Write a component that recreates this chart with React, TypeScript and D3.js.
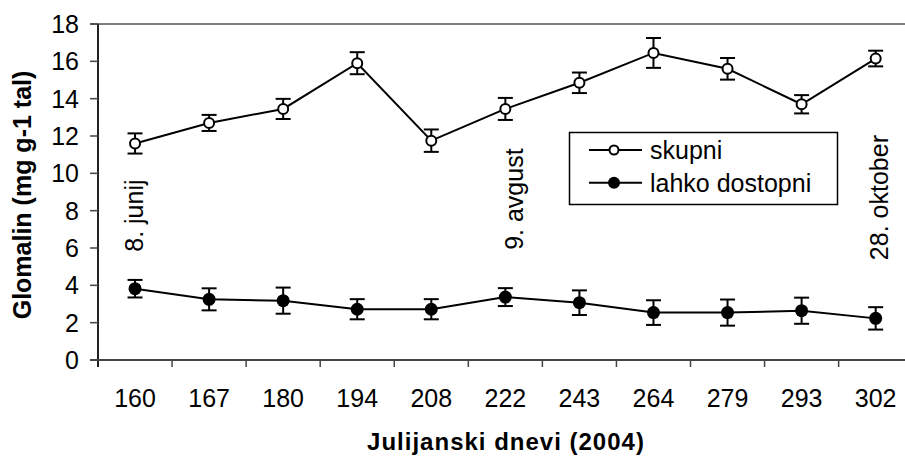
import React from 'react';
import * as d3 from 'd3';

const days = ['160', '167', '180', '194', '208', '222', '243', '264', '279', '293', '302'];
const skupni = [11.6, 12.7, 13.45, 15.9, 11.75, 13.45, 14.85, 16.45, 15.6, 13.7, 16.15];
const skupniErr = [0.54, 0.43, 0.54, 0.59, 0.6, 0.59, 0.55, 0.8, 0.58, 0.49, 0.42];
const lahko = [3.82, 3.25, 3.18, 2.72, 2.72, 3.37, 3.07, 2.54, 2.54, 2.64, 2.23];
const lahkoErr = [0.47, 0.59, 0.7, 0.54, 0.54, 0.48, 0.66, 0.66, 0.7, 0.7, 0.6];
const yTicks = [0, 2, 4, 6, 8, 10, 12, 14, 16, 18];
const annotationDays = ['160', '222', '302'];
const annotationTexts = ['8. junij', '9. avgust', '28. oktober'];
const seriesNames = ['skupni', 'lahko dostopni'];
const xTitle = 'Julijanski dnevi (2004)';
const yTitle = 'Glomalin (mg g-1 tal)';

const FONT = "Arial, 'Liberation Sans', sans-serif";

export default function App() {
  const W = 905, H = 456;
  const left = 98, right = 912.7, top = 24, bottom = 360;
  const x = d3.scaleBand<string>().domain(days).range([left, right]).padding(0);
  const y = d3.scaleLinear().domain([0, 18]).range([bottom, top]);
  const cx = (d: string) => (x(d) as number) + x.bandwidth() / 2;
  const line = d3.line<number>().x((_, i) => cx(days[i])).y((v) => y(v));
  const cap = 7.5;
  const annDx = [8, 18, 12];
  const annY = [5.8, 5.9, 5.35];

  const errorBars = (vals: number[], errs: number[], key: string) =>
    vals.map((v, i) => {
      const px = cx(days[i]);
      const y1 = y(v + errs[i]);
      const y2 = y(v - errs[i]);
      return (
        <g key={key + i} stroke="#000" strokeWidth={2}>
          <line x1={px} x2={px} y1={y1} y2={y2} />
          <line x1={px - cap} x2={px + cap} y1={y1} y2={y1} />
          <line x1={px - cap} x2={px + cap} y1={y2} y2={y2} />
        </g>
      );
    });

  return (
    <svg width={W} height={H} style={{ position: 'absolute', left: 0, top: 0, display: 'block', background: '#fff' }} fontFamily={FONT}>
      <rect x={0} y={0} width={W} height={H} fill="#fff" />
      {/* top border */}
      <line x1={90} x2={right} y1={top} y2={top} stroke="#808080" strokeWidth={2} />
      {/* y axis */}
      <line x1={left} x2={left} y1={top} y2={bottom + 7} stroke="#222" strokeWidth={2} />
      {yTicks.map((t) => (
        <g key={'yt' + t}>
          <line x1={90} x2={left} y1={y(t)} y2={y(t)} stroke="#444" strokeWidth={1.5} />
          <text x={79} y={y(t)} dy="0.36em" textAnchor="end" fontSize={25} fill="#000">{t}</text>
        </g>
      ))}
      {/* x axis */}
      <line x1={90} x2={right} y1={bottom} y2={bottom} stroke="#444" strokeWidth={2} />
      {days.map((d, i) => (
        <g key={'xt' + d}>
          {i > 0 && <line x1={x(d) as number} x2={x(d) as number} y1={bottom} y2={bottom + 7} stroke="#444" strokeWidth={1.5} />}
          <text x={cx(d)} y={407} textAnchor="middle" fontSize={25} fill="#000">{d}</text>
        </g>
      ))}
      <line x1={right} x2={right} y1={bottom} y2={bottom + 7} stroke="#444" strokeWidth={1.5} />
      {/* titles */}
      <text x={506} y={450} textAnchor="middle" fontSize={24} fontWeight="bold" letterSpacing={1}>{xTitle}</text>
      <text transform={`translate(31,195) rotate(-90)`} textAnchor="middle" fontSize={25} fontWeight="bold">{yTitle}</text>
      {/* annotations */}
      {annotationDays.map((d, i) => (
        <text key={'an' + i} transform={`translate(${cx(d) + annDx[i]},${y(annY[i])}) rotate(-90)`} fontSize={25} fill="#000">{annotationTexts[i]}</text>
      ))}
      {/* series lines */}
      <path d={line(skupni) as string} fill="none" stroke="#000" strokeWidth={2} />
      <path d={line(lahko) as string} fill="none" stroke="#000" strokeWidth={2} />
      {errorBars(skupni, skupniErr, 's')}
      {errorBars(lahko, lahkoErr, 'l')}
      {skupni.map((v, i) => (
        <circle key={'sc' + i} cx={cx(days[i])} cy={y(v)} r={5} fill="#fff" stroke="#000" strokeWidth={2} />
      ))}
      {lahko.map((v, i) => (
        <circle key={'lc' + i} cx={cx(days[i])} cy={y(v)} r={6.5} fill="#000" />
      ))}
      {/* legend */}
      <rect x={569.5} y={132.5} width={268} height={72} fill="#fff" stroke="#000" strokeWidth={1.5} />
      {seriesNames.map((n, i) => {
        const ly = 150 + i * 32.7;
        return (
          <g key={'lg' + i}>
            <line x1={589} x2={642} y1={ly} y2={ly} stroke="#000" strokeWidth={2} />
            {i === 0 ? (
              <circle cx={614} cy={ly} r={4.5} fill="#fff" stroke="#000" strokeWidth={2} />
            ) : (
              <circle cx={614} cy={ly} r={6} fill="#000" />
            )}
            <text x={650} y={ly} dy="0.36em" fontSize={25} fill="#000">{n}</text>
          </g>
        );
      })}
    </svg>
  );
}
